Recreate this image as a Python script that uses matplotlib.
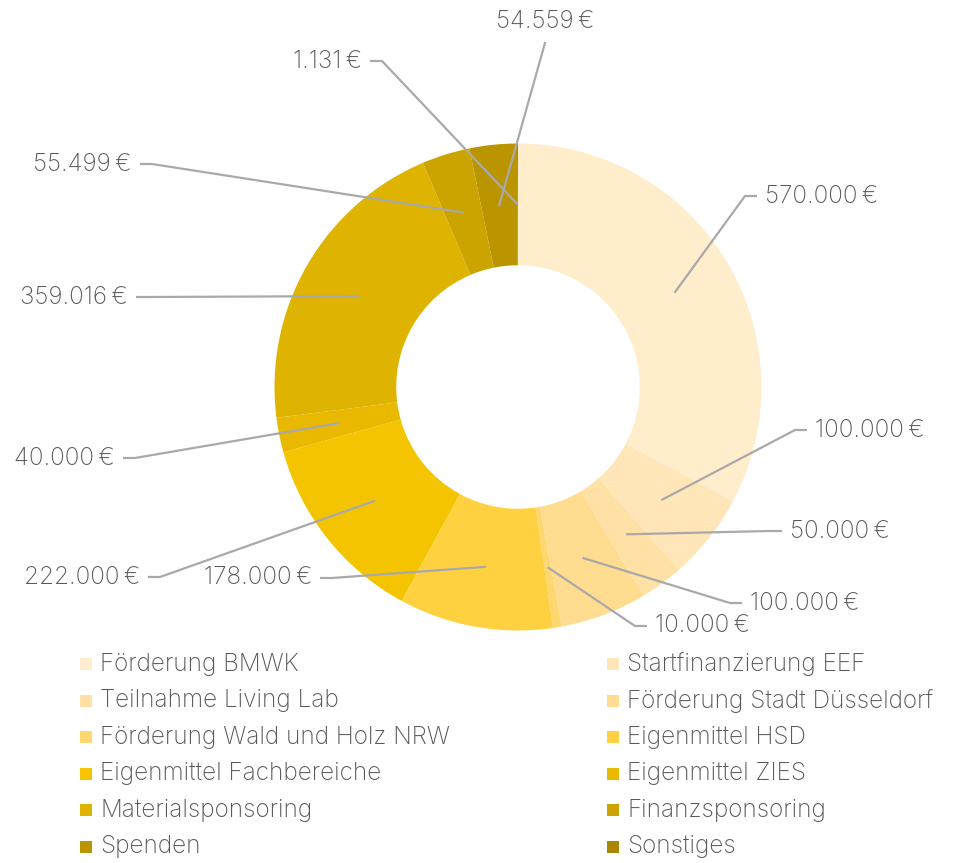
import numpy as np
import matplotlib.pyplot as plt
from matplotlib.patches import Rectangle

plt.rcParams['font.family'] = ['Inter', 'DejaVu Sans']

# data
names = ['Förderung BMWK', 'Startfinanzierung EEF', 'Teilnahme Living Lab',
         'Förderung Stadt Düsseldorf', 'Förderung Wald und Holz NRW', 'Eigenmittel HSD',
         'Eigenmittel Fachbereiche', 'Eigenmittel ZIES', 'Materialsponsoring',
         'Finanzsponsoring', 'Spenden', 'Sonstiges']
values = [570000, 100000, 50000, 100000, 10000, 178000, 222000, 40000, 359016,
          55499, 54559, 1131]
colors = ['#FFEDCC', '#FFE6B9', '#FFE1A6', '#FFDC8F', '#FFD66F', '#FFD140',
          '#F5C400', '#E9B900', '#DFB400', '#CCA400', '#BB9500', '#A88700']

# label text anchors in pixels (x, y, ha) - layout only
lab_pos = [(765, 196, 'left'), (815, 430, 'left'), (790, 531, 'left'),
           (750, 603, 'left'), (655, 626, 'left'), (312, 578, 'right'),
           (140, 577, 'right'), (115, 458, 'right'), (128, 297, 'right'),
           (132, 164, 'right'), (545, 21, 'center'), (362, 61, 'right')]

W, H = 973, 863
cx, cy, R = 518, 387, 243.5

def d(px, py):
    return (px - cx) / R, (cy - py) / R

fig = plt.figure(figsize=(W / 100, H / 100), dpi=100)
ax = fig.add_axes([0, 0, 1, 1])

wedges, _ = ax.pie(values, colors=colors, startangle=90, counterclock=False,
                   radius=1, wedgeprops=dict(width=0.5, linewidth=0))
ax.set_xlim(-cx / R, (W - cx) / R)
ax.set_ylim(-(H - cy) / R, cy / R)
ax.set_aspect('equal')
ax.axis('off')

def fmt(v):
    return '{:,}'.format(v).replace(',', '.') + '\u2009€'

total = sum(values)
cum = np.cumsum([0] + values)
for i, v in enumerate(values):
    mid = np.deg2rad((cum[i] + v / 2) / total * 360)
    sx, sy = 0.75 * np.sin(mid), 0.75 * np.cos(mid)
    tx, ty, ha = lab_pos[i]
    x, y = d(tx, ty)
    gap = 8 / R
    if ha == 'left':
        e1 = x - gap
        e0 = e1 - 12 / R
        ax.plot([sx, e0, e1], [sy, y, y], color='#a9a9a9', lw=1.6, solid_capstyle='butt')
    elif ha == 'right':
        e1 = x + gap
        e0 = e1 + 12 / R
        ax.plot([sx, e0, e1], [sy, y, y], color='#a9a9a9', lw=1.6, solid_capstyle='butt')
    else:
        ax.plot([sx, x], [sy, y - 22 / R], color='#a9a9a9', lw=1.6)
    ax.text(x, y, fmt(v), ha=ha, va='center', fontsize=17.5, color='#595959',
            fontweight='light')

# legend, two columns
for i, (n, c) in enumerate(zip(names, colors)):
    col, row = i % 2, i // 2
    lx = 80 if col == 0 else 607
    ly = 664 + row * 36.6
    x0, y0 = d(lx, ly + 6)
    ax.add_patch(Rectangle((x0, y0), 12 / R, 12 / R, facecolor=c, edgecolor='none'))
    tx, ty = d(lx + 20, ly)
    ax.text(tx, ty, n, ha='left', va='center', fontsize=17.5, color='#595959',
            fontweight='light')

fig.savefig('out.png', dpi=100, facecolor='white')
